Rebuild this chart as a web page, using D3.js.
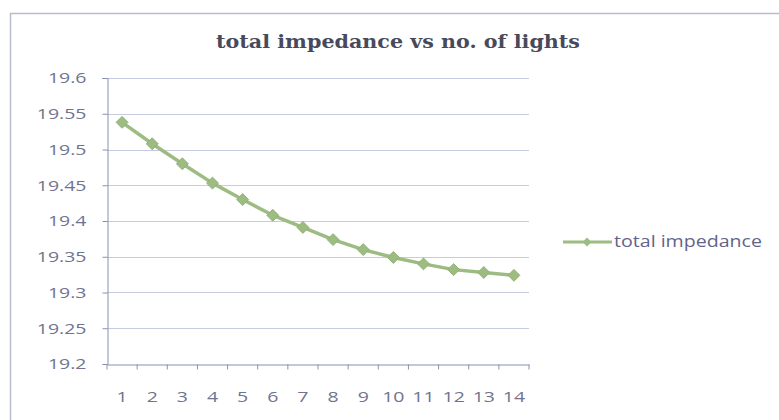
<!DOCTYPE html>
<html><head><meta charset="utf-8">
<script src="https://cdn.jsdelivr.net/npm/d3@7"></script>
<style>body{margin:0;background:#fff}svg{display:block}</style>
</head><body>
<svg id="c" width="779" height="420"></svg>
<script>
const categories = ["1","2","3","4","5","6","7","8","9","10","11","12","13","14"];
const impedance = [19.538,19.508,19.480,19.453,19.430,19.408,19.391,19.374,19.360,19.349,19.340,19.332,19.328,19.324];
const yTicks = [19.2,19.25,19.3,19.35,19.4,19.45,19.5,19.55,19.6];
const seriesName = "total impedance";
const title = "total impedance vs no. of lights";

const svg = d3.select("#c");
const green = "#9dbc82", axisCol = "#8a90b0", gridCol = "#c6cbe2", txtCol = "#70738f";
const SX = 1.3;
// widen text horizontally by SX, keeping the given anchor ('start','middle','end') at the same x
function stretch(sel, anchor){
  sel.each(function(){
    const t = d3.select(this);
    const x0 = parseFloat(t.attr("x")) || 0;
    const w = this.getComputedTextLength();
    const nw = w*SX;
    const start = anchor==="end" ? x0 - nw : anchor==="middle" ? x0 - nw/2 : x0;
    t.attr("text-anchor","start").attr("x",start)
     .attr("textLength",nw).attr("lengthAdjust","spacingAndGlyphs");
  });
}

svg.append("rect").attr("x",10.5).attr("y",13.5).attr("width",800).attr("height",420)
  .attr("fill","#fff").attr("stroke","#b9bccb").attr("stroke-width",1.5);

const L=107, R=529, T=78, B=364;
const x = d3.scaleBand().domain(categories).range([L,R]);
const y = d3.scaleLinear().domain([19.2,19.6]).range([B,T]);

svg.append("text").attr("x",216).attr("y",48)
  .attr("font-family","DejaVu Serif, serif").attr("font-weight","bold").attr("font-size",18)
  .attr("textLength",364).attr("lengthAdjust","spacingAndGlyphs")
  .attr("fill","#484a5c").text(title);

// grid
svg.append("g").selectAll("line").data(yTicks.slice(1)).join("line")
  .attr("x1",L).attr("x2",R).attr("y1",d=>Math.round(y(d))+0.5).attr("y2",d=>Math.round(y(d))+0.5)
  .attr("stroke",gridCol).attr("stroke-width",1);

// y axis
const ya = svg.append("g").attr("transform",`translate(${L+0.5},0)`)
  .call(d3.axisLeft(y).tickValues(yTicks).tickFormat(d=>String(d)).tickSize(5).tickPadding(16));
ya.select(".domain").attr("stroke",axisCol);
ya.selectAll(".tick line").attr("stroke",axisCol);
ya.selectAll(".tick text").attr("font-family","Open Sans, Liberation Sans, sans-serif").attr("font-size",15).attr("fill",txtCol)
  .call(stretch,"end");

// x axis
const xa = svg.append("g").attr("transform",`translate(0,${B+0.5})`)
  .call(d3.axisBottom(x).tickSize(0).tickPadding(27));
xa.select(".domain").attr("stroke",axisCol);
xa.selectAll(".tick text").attr("font-family","Open Sans, Liberation Sans, sans-serif").attr("font-size",15).attr("fill",txtCol)
  .call(stretch,"middle");
xa.selectAll(".bt").data(d3.range(categories.length+1)).join("line")
  .attr("x1",i=>L+i*x.step()).attr("x2",i=>L+i*x.step()).attr("y1",0).attr("y2",5).attr("stroke",axisCol);

const cx = d=>x(d)+x.bandwidth()/2;
const line = d3.line().x((d,i)=>cx(categories[i])).y(d=>y(d));
svg.append("path").datum(impedance).attr("d",line).attr("fill","none")
  .attr("stroke",green).attr("stroke-width",3.5).attr("stroke-linejoin","round");
const diamond = d3.symbol().type(d3.symbolDiamond2).size(90);
svg.append("g").selectAll("path").data(impedance).join("path")
  .attr("transform",(d,i)=>`translate(${cx(categories[i])},${y(d)})`)
  .attr("d",diamond).attr("fill",green).attr("stroke","#91b176").attr("stroke-width",1);

// legend
const lg = svg.append("g").attr("transform","translate(563,242)");
lg.append("line").attr("x1",0).attr("x2",49).attr("y1",0).attr("y2",0).attr("stroke",green).attr("stroke-width",3);
lg.append("path").attr("transform","translate(24,0)").attr("d",d3.symbol().type(d3.symbolDiamond2).size(50)).attr("fill",green);
lg.append("text").attr("x",51).attr("y",5).attr("font-family","Open Sans, Liberation Sans, sans-serif")
  .attr("font-size",15.5).attr("textLength",148).attr("lengthAdjust","spacingAndGlyphs")
  .attr("fill","#62648a").text(seriesName);
</script>
</body></html>
